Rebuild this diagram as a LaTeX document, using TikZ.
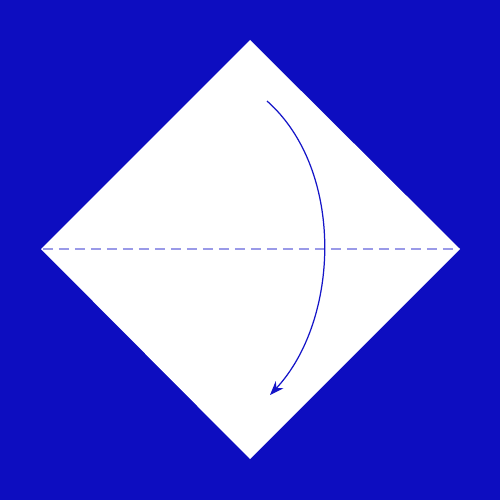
\documentclass[tikz,border=0pt]{standalone}
\usetikzlibrary{arrows.meta}
\definecolor{bg}{HTML}{0D0DC0}
\definecolor{fold}{HTML}{9A9AE8}
\definecolor{arr}{HTML}{1515C8}
\begin{document}
\begin{tikzpicture}[x=0.02cm,y=-0.02cm,
  paper/.style={fill=white,draw=none},
  valley/.style={draw=fold,line width=1.3pt,dash pattern=on 0.2cm off 0.12cm},
  foldarrow/.style={draw=arr,line width=0.7pt,-{Stealth[length=8pt,width=6pt]}}]
\fill[bg] (0,0) rectangle (500,500);
\useasboundingbox (0,0) rectangle (500,500);
\coordinate (T) at (250,40);
\coordinate (L) at (41,249);
\coordinate (R) at (460,249);
\coordinate (B) at (250,459);
\path[paper] (T) -- (R) -- (B) -- (L) -- cycle;
\coordinate (dl) at (43,249);
\coordinate (dr) at (458,249);
\draw[valley] (dl) -- (dr);
\coordinate (a1) at (267,101);
\coordinate (a2) at (270,395);
\draw[foldarrow] (a1) .. controls (345,170) and (340,320) .. (a2);
\end{tikzpicture}
\end{document}
